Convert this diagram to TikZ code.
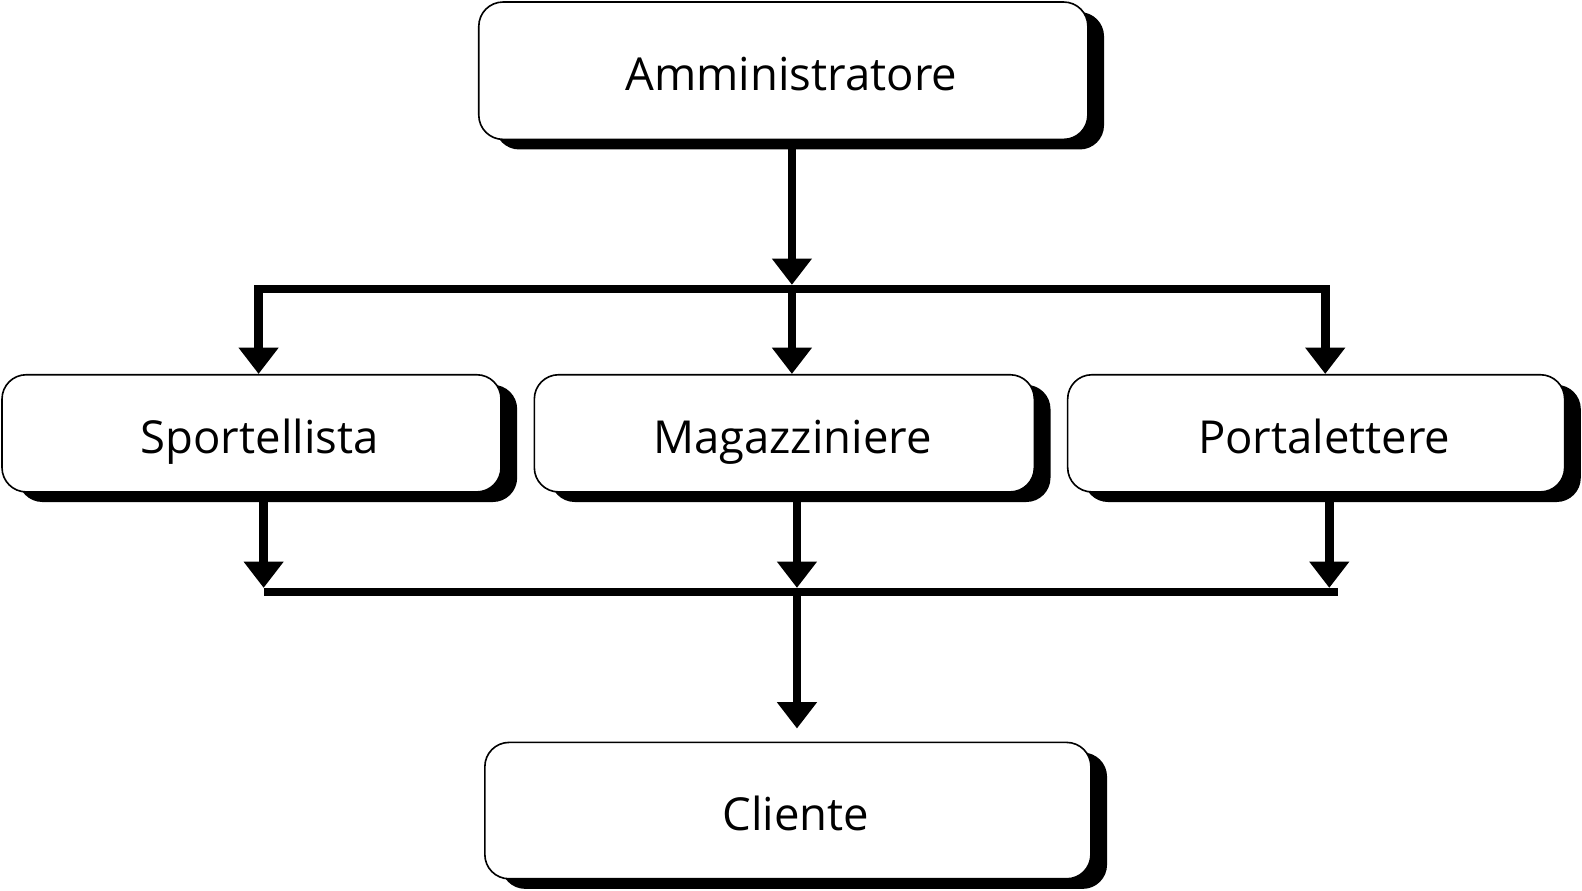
\documentclass[tikz,border=0pt]{standalone}
\usepackage{fontspec}
\setmainfont{Open Sans}
\usetikzlibrary{positioning}
\usetikzlibrary{arrows.meta}
\usetikzlibrary{shadows}
\tikzset{>={Triangle[width=19pt,length=13pt]}}
\tikzset{role/.style={draw, rounded corners=12pt, line width=0.8pt, fill=white, inner sep=0pt,
  font=\fontsize{22.5pt}{27pt}\selectfont, text height=19.5pt, text depth=0pt,
  execute at begin node={\hspace*{8pt}},
  drop shadow={shadow xshift=8pt, shadow yshift=-5pt, fill=black, opacity=1}}}
\tikzset{wire/.style={line width=4.2pt}}

\begin{document}
\begin{tikzpicture}[x=0.5pt,y=-0.5pt]
\node[role, minimum width=301.5pt, minimum height=68pt] (admin) at (775.5,70) {Amministratore};
\node[role, minimum width=247pt, minimum height=58pt] (sport) at (249,429) {Sportellista};
\node[role, minimum width=247.5pt, minimum height=58pt] (magaz) at (776.5,429) {Magazziniere};
\node[role, minimum width=246pt, minimum height=58pt] (posta) at (1303,429) {Portalettere};
\node[role, minimum width=300pt, minimum height=67.5pt] (client) at (780,802.5) {Cliente};

% upper bus
\coordinate (top) at (784,286);
\coordinate (tl) at (256,286);
\coordinate (tr) at (1312,286);
\draw[wire,->,shorten >=2pt] (top |- admin.south) -- (top);
\draw[wire,line cap=rect] (tl) -- (tr);
\draw[wire,->] (tl) -- (tl |- sport.north);
\draw[wire,->] (top) -- (top |- magaz.north);
\draw[wire,->] (tr) -- (tr |- posta.north);

% lower bus
\coordinate (bl) at (261,586);
\coordinate (bm) at (789,586);
\coordinate (br) at (1316,586);
\coordinate (bend) at (1325,586);
\draw[wire,->,shorten >=2pt] (bl |- sport.south) -- (bl);
\draw[wire,->,shorten >=2pt] (bm |- magaz.south) -- (bm);
\draw[wire,->,shorten >=2pt] (br |- posta.south) -- (br);
\draw[wire] (bl) -- (bend);
\draw[wire,->,shorten >=6.5pt] (bm) -- (bm |- client.north);

\pgfresetboundingbox
\useasboundingbox (0,0) rectangle (1566.2,882.1);
\end{tikzpicture}
\end{document}
